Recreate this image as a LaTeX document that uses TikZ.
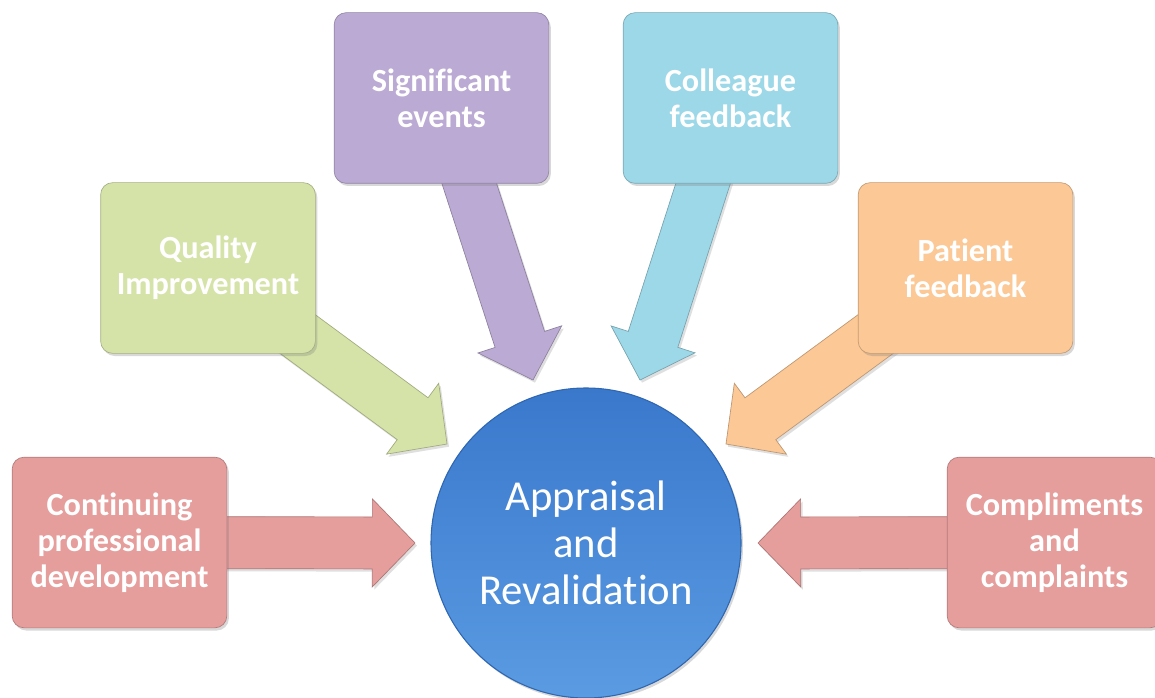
\documentclass[tikz,border=0pt]{standalone}
\usepackage{fontspec}
\setmainfont{Carlito}[Ligatures=CommonOff]
\usetikzlibrary{calc,shadows}
\definecolor{cpink}{HTML}{E59E9C}
\definecolor{cgreen}{HTML}{D5E3A8}
\definecolor{cpurple}{HTML}{BBAAD3}
\definecolor{ccyan}{HTML}{9DD8E8}
\definecolor{corange}{HTML}{FBC896}
\definecolor{cblueT}{HTML}{3A78CC}
\definecolor{cblueB}{HTML}{5A9BE2}
\definecolor{cblueD}{HTML}{2E66B0}
\tikzset{
  box/.style={rounded corners=9pt, minimum width=161pt, minimum height=128pt,
    align=center, text=white, font=\bfseries\fontsize{24.2}{26.8}\selectfont,
    draw=#1!78!black, line width=0.5pt, fill=#1,
    drop shadow={opacity=0.3, shadow xshift=1.5pt, shadow yshift=-2pt}},
  arrowbody/.style={fill=#1, draw=#1!75!black, line width=0.5pt,
    drop shadow={opacity=0.25, shadow xshift=1.5pt, shadow yshift=-2pt}},
  hub/.style={circle, minimum size=232.5pt, top color=cblueT, bottom color=cblueB,
    draw=cblueD, line width=0.8pt, text=white, align=center,
    font=\fontsize{32}{35}\selectfont,
    drop shadow={opacity=0.3, shadow xshift=1.5pt, shadow yshift=-2pt}}
}
% #1 start (node), #2 tip (coordinate), #3 colour
\newcommand\blockarrow[3]{%
  \coordinate (B) at ($(#2)!32pt!(#1)$);
  \path[arrowbody=#3]
    ($(#1)!19.5pt!90:(#2)$) -- ($(B)!19.5pt!90:(#2)$) -- ($(B)!33pt!90:(#2)$)
    -- (#2) -- ($(B)!33pt!-90:(#2)$) -- ($(B)!19.5pt!-90:(#2)$)
    -- ($(#1)!19.5pt!-90:(#2)$) -- cycle;
}
\begin{document}
\begin{tikzpicture}[x=0.75pt, y=-0.75pt]
  \useasboundingbox (0,0) rectangle (1155,698);
  \clip (0,0) rectangle (1155,698);
  \fill[white] (0,0) rectangle (1155,698);
  % anchor points of boxes (centres) and arrow tips
  \coordinate (cpdC) at (119.5,542.5);
  \coordinate (qiC) at (208,268);
  \coordinate (seC) at (441.5,98);
  \coordinate (cfC) at (730.5,98);
  \coordinate (pfC) at (965.5,268);
  \coordinate (ccC) at (1054.5,542.5);
  \coordinate (tcpd) at (415,543);
  \coordinate (tqi) at (447,444);
  \coordinate (tse) at (533,380);
  \coordinate (tcf) at (640,380);
  \coordinate (tpf) at (726,444);
  \coordinate (tcc) at (758,543);
  % arrows (behind boxes)
  \blockarrow{cpdC}{tcpd}{cpink}
  \blockarrow{qiC}{tqi}{cgreen}
  \blockarrow{seC}{tse}{cpurple}
  \blockarrow{cfC}{tcf}{ccyan}
  \blockarrow{pfC}{tpf}{corange}
  \blockarrow{ccC}{tcc}{cpink}
  % boxes
  \node[box=cpink] (cpd) at (cpdC) {Continuing\\professional\\development};
  \node[box=cgreen] (qi) at (qiC) {Quality\\Improvement};
  \node[box=cpurple] (se) at (seC) {Significant\\events};
  \node[box=ccyan] (cf) at (cfC) {Colleague\\feedback};
  \node[box=corange] (pf) at (pfC) {Patient\\feedback};
  \node[box=cpink] (cc) at (ccC) {Compliments\\and\\complaints};
  % hub
  \node[hub] (ar) at (586,543) {Appraisal\\and\\Revalidation};
\end{tikzpicture}
\end{document}
